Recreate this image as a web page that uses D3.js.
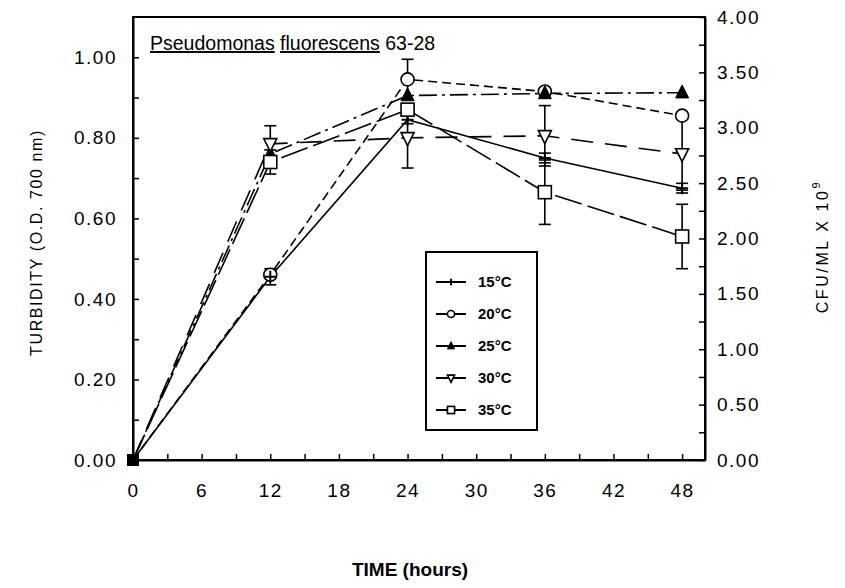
<!DOCTYPE html>
<html>
<head>
<meta charset="utf-8">
<script src="https://cdn.jsdelivr.net/npm/d3@7/dist/d3.min.js"></script>
<style>
  html, body { margin: 0; padding: 0; background: #fff; }
  svg { display: block; }
  text { font-family: "Liberation Sans", Arial, Helvetica, sans-serif; fill: #000; }
</style>
</head>
<body>
<svg id="chart" width="845" height="588"></svg>
<script>
// Sampling times (hours)
const hours = [0, 12, 24, 36, 48];

// Turbidity (O.D. 700 nm) for each incubation temperature
const temps = ["15°C", "20°C", "25°C", "30°C", "35°C"];
const od15 = [0, 0.455, 0.845, 0.750, 0.675];
const od20 = [0, 0.460, 0.945, 0.915, 0.855];
const od25 = [0, 0.760, 0.905, 0.910, 0.912];
const od30 = [0, 0.785, 0.800, 0.805, 0.760];
const od35 = [0, 0.740, 0.870, 0.665, 0.555];

// Error bar half-widths (same units)
const err15 = [0, 0.020, 0.010, 0.012, 0.012];
const err20 = [0, 0, 0.050, 0, 0];
const err25 = [0, 0, 0, 0, 0];
const err30 = [0, 0.045, 0.075, 0.075, 0.090];
const err35 = [0, 0.030, 0, 0.080, 0.080];

// Axis ticks
const xTicks = [0, 3, 6, 9, 12, 15, 18, 21, 24, 27, 30, 33, 36, 39, 42, 45, 48];
const xLabels = [0, 6, 12, 18, 24, 30, 36, 42, 48];
const leftTicks = [0, 0.1, 0.2, 0.3, 0.4, 0.5, 0.6, 0.7, 0.8, 0.9, 1.0];
const leftLabels = [0, 0.2, 0.4, 0.6, 0.8, 1.0];
const rightTicks = [0, 0.25, 0.5, 0.75, 1, 1.25, 1.5, 1.75, 2, 2.25, 2.5, 2.75, 3, 3.25, 3.5, 3.75, 4];
const rightLabels = [0, 0.5, 1, 1.5, 2, 2.5, 3, 3.5, 4];

const series = [
  { name: temps[0], values: od15, err: err15, marker: "plus",   dash: null },
  { name: temps[1], values: od20, err: err20, marker: "circle", dash: "9,5" },
  { name: temps[2], values: od25, err: err25, marker: "triUp",  dash: "18,5,3,5" },
  { name: temps[3], values: od30, err: err30, marker: "triDown",dash: "22,12" },
  { name: temps[4], values: od35, err: err35, marker: "square", dash: "28,6" }
];

const svg = d3.select("#chart");
const L = 133, R = 705, T = 17, B = 460;

const x = d3.scaleLinear().domain([0, 50]).range([L, R]);
const yL = d3.scaleLinear().domain([0, 1.1]).range([B, T]);
const yR = d3.scaleLinear().domain([0, 4]).range([B, T]);

// Frame
svg.append("rect")
  .attr("x", L).attr("y", T).attr("width", R - L).attr("height", B - T)
  .attr("fill", "none").attr("stroke", "#000").attr("stroke-width", 2);

const tickFont = 19;

// Bottom axis
const gx = svg.append("g").attr("transform", `translate(0,${B})`)
  .call(d3.axisBottom(x).tickValues(xTicks).tickSizeInner(-6).tickSizeOuter(0).tickPadding(24)
    .tickFormat(d => xLabels.includes(d) ? String(d) : ""));
// Left axis
const gl = svg.append("g").attr("transform", `translate(${L},0)`)
  .call(d3.axisLeft(yL).tickValues(leftTicks).tickSizeInner(-6).tickSizeOuter(0).tickPadding(16)
    .tickFormat(d => leftLabels.some(v => Math.abs(v - d) < 1e-9) ? d.toFixed(2) : ""));
// Right axis
const gr = svg.append("g").attr("transform", `translate(${R},0)`)
  .call(d3.axisRight(yR).tickValues(rightTicks).tickSizeInner(-6).tickSizeOuter(0).tickPadding(12)
    .tickFormat(d => rightLabels.some(v => Math.abs(v - d) < 1e-9) ? d.toFixed(2) : ""));

[gx, gl, gr].forEach(g => {
  g.select(".domain").attr("stroke", "#000").attr("stroke-width", 2);
  g.selectAll(".tick line").attr("stroke", "#000").attr("stroke-width", 1.5);
  g.selectAll(".tick text")
    .attr("font-family", "Liberation Sans, Arial, sans-serif")
    .attr("font-size", tickFont).attr("letter-spacing", "1.5px").attr("fill", "#000");
});

// Axis titles
svg.append("text")
  .attr("transform", `translate(42,${(T + B) / 2 + 4}) rotate(-90)`)
  .attr("text-anchor", "middle").attr("font-size", 16).attr("letter-spacing", "1.6px")
  .text("TURBIDITY (O.D. 700 nm)");

const rt = svg.append("text")
  .attr("transform", `translate(828,${(T + B) / 2 + 8}) rotate(-90)`)
  .attr("text-anchor", "middle").attr("font-size", 16).attr("letter-spacing", "2.6px");
rt.append("tspan").text("CFU/ML X 10");
rt.append("tspan").attr("dy", -8).attr("font-size", 11).text("9");

svg.append("text")
  .attr("x", 410).attr("y", 576).attr("text-anchor", "middle")
  .attr("font-family", "Liberation Sans Narrow, Arial Narrow, sans-serif")
  .attr("font-weight", "bold").attr("font-size", 19)
  .text("TIME (hours)");

// Chart heading with underlined genus and species
const title = svg.append("text").attr("x", 150).attr("y", 50).attr("font-size", 19.5);
title.append("tspan").attr("text-decoration", "underline").text("Pseudomonas");
title.append("tspan").text(" ");
title.append("tspan").attr("text-decoration", "underline").text("fluorescens");
title.append("tspan").text(" 63-28");

// Lines
const line = d3.line().x((d, i) => x(hours[i])).y(d => yL(d));
series.forEach(s => {
  svg.append("path").datum(s.values)
    .attr("d", line).attr("fill", "none").attr("stroke", "#000")
    .attr("stroke-width", 1.6)
    .attr("stroke-dasharray", s.dash);
});

// Error bars
const capW = 6;
series.forEach(s => {
  s.values.forEach((v, i) => {
    const e = s.err[i];
    if (!e) return;
    const cx = x(hours[i]);
    const g = svg.append("g").attr("stroke", "#000").attr("stroke-width", 1.6);
    g.append("line").attr("x1", cx).attr("x2", cx).attr("y1", yL(v - e)).attr("y2", yL(v + e));
    g.append("line").attr("x1", cx - capW).attr("x2", cx + capW).attr("y1", yL(v - e)).attr("y2", yL(v - e));
    g.append("line").attr("x1", cx - capW).attr("x2", cx + capW).attr("y1", yL(v + e)).attr("y2", yL(v + e));
  });
});

// Marker drawing
function drawMarker(g, type, cx, cy, scale) {
  const k = scale || 1;
  if (type === "plus") {
    g.append("path").attr("d", `M${cx - 6 * k},${cy}H${cx + 6 * k}M${cx},${cy - 6 * k}V${cy + 6 * k}`)
      .attr("stroke", "#000").attr("stroke-width", 2).attr("fill", "none");
  } else if (type === "circle") {
    g.append("circle").attr("cx", cx).attr("cy", cy).attr("r", 6.5 * k)
      .attr("fill", "#fff").attr("stroke", "#000").attr("stroke-width", 1.6);
  } else if (type === "triUp") {
    const h = 13 * k, w = 13 * k;
    g.append("path").attr("d", `M${cx},${cy - h * 0.6}L${cx + w / 2},${cy + h * 0.4}L${cx - w / 2},${cy + h * 0.4}Z`)
      .attr("fill", "#000").attr("stroke", "#000").attr("stroke-width", 1);
  } else if (type === "triDown") {
    const h = 13 * k, w = 13 * k;
    g.append("path").attr("d", `M${cx},${cy + h * 0.6}L${cx + w / 2},${cy - h * 0.4}L${cx - w / 2},${cy - h * 0.4}Z`)
      .attr("fill", "#fff").attr("stroke", "#000").attr("stroke-width", 1.6);
  } else if (type === "square") {
    const s = 13 * k;
    g.append("rect").attr("x", cx - s / 2).attr("y", cy - s / 2).attr("width", s).attr("height", s)
      .attr("fill", "#fff").attr("stroke", "#000").attr("stroke-width", 1.6);
  }
}

// 20 °C circles first so the 15 °C crosses stay visible where they coincide
const drawOrder = [1, 0, 2, 3, 4];
const mg = svg.append("g");
drawOrder.forEach(idx => {
  const s = series[idx];
  s.values.forEach((v, i) => {
    if (hours[i] === 0) return;
    drawMarker(mg, s.marker, x(hours[i]), yL(v));
  });
});

// Shared starting point at the origin
svg.append("rect")
  .attr("x", x(0) - 6).attr("y", yL(0) - 6).attr("width", 12).attr("height", 12)
  .attr("fill", "#000");

// Legend
const lgX = 426, lgY = 252, lgW = 111, lgH = 178;
svg.append("rect").attr("x", lgX).attr("y", lgY).attr("width", lgW).attr("height", lgH)
  .attr("fill", "#fff").attr("stroke", "#000").attr("stroke-width", 2);
series.forEach((s, i) => {
  const cy = lgY + 30 + i * 32;
  const g = svg.append("g");
  g.append("line").attr("x1", lgX + 10).attr("x2", lgX + 40).attr("y1", cy).attr("y2", cy)
    .attr("stroke", "#000").attr("stroke-width", 2);
  drawMarker(g, s.marker, lgX + 25, cy, 0.55);
  g.append("text").attr("x", lgX + 52).attr("y", cy + 5)
    .attr("font-size", 15).attr("font-weight", "bold").text(s.name);
});
</script>
</body>
</html>
